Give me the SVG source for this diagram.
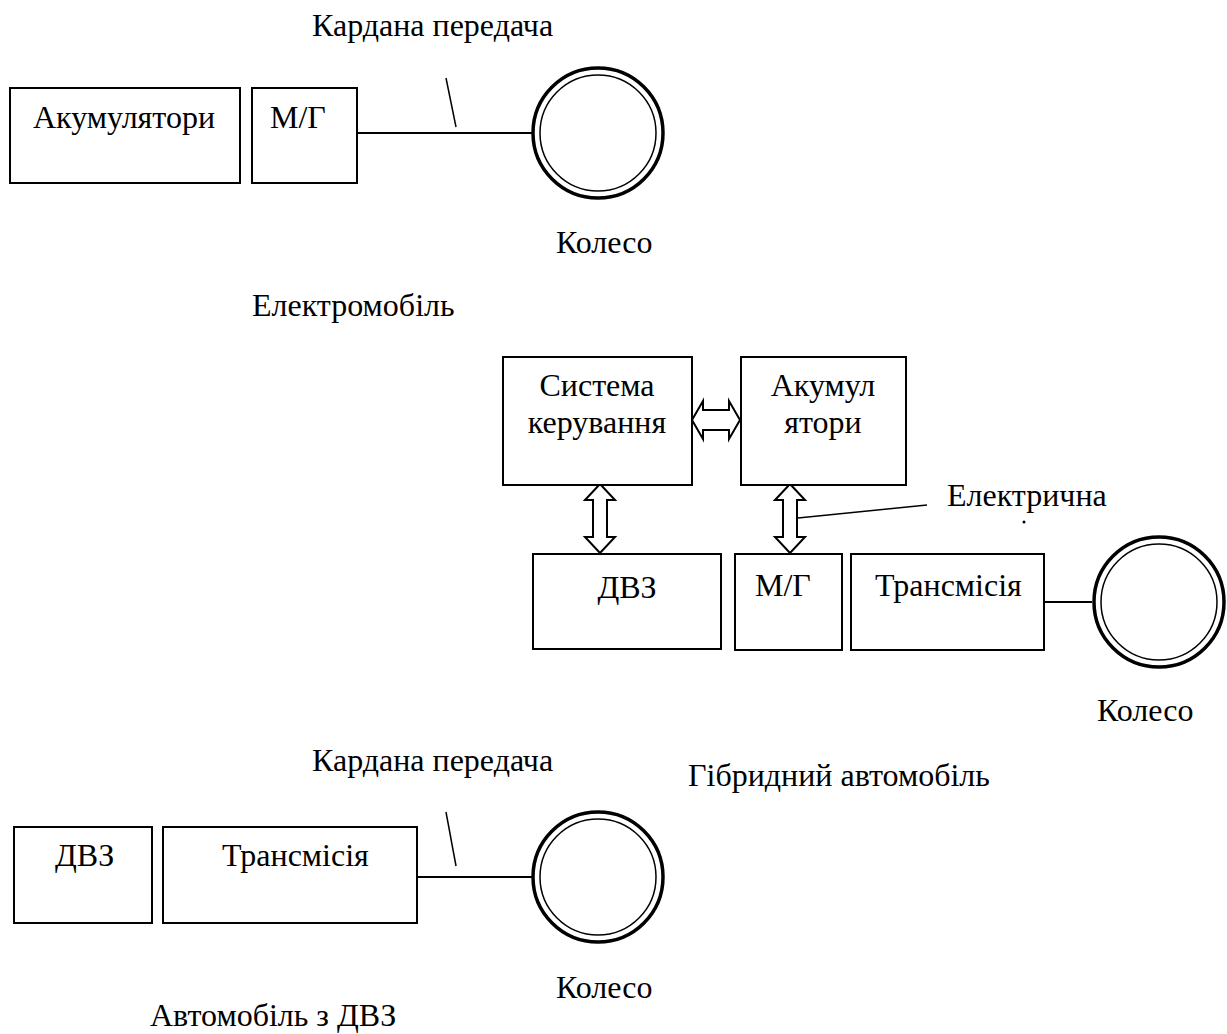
<svg xmlns="http://www.w3.org/2000/svg" width="1227" height="1034" viewBox="0 0 1227 1034">
<style>
text{font-family:"Liberation Serif","Times New Roman",serif;font-size:32px;fill:#000}
.box{fill:#fff;stroke:#000;stroke-width:2}
.ln{fill:none;stroke:#000;stroke-width:2}
.thin{fill:none;stroke:#000;stroke-width:1.5}
.w1{fill:#fff;stroke:#000;stroke-width:3.5}
.w2{fill:none;stroke:#000;stroke-width:1.5}
.arr{fill:#fff;stroke:#000;stroke-width:2;stroke-linejoin:miter}
.c{text-anchor:middle}
</style>
<rect width="1227" height="1034" fill="#fff"/>
<g id="connectors">
<line class="ln" x1="357" y1="133" x2="532" y2="133"/>
<line class="thin" x1="446" y1="78" x2="456" y2="127"/>
<line class="ln" x1="1044" y1="602" x2="1092" y2="602"/>
<line class="thin" x1="798" y1="518" x2="927" y2="505"/>
<line class="ln" x1="417" y1="877" x2="532" y2="877"/>
<line class="thin" x1="446" y1="812" x2="456" y2="866"/>
<path class="arr" d="M692,420 L703,401 L703,410 L729,410 L729,401 L740,420 L729,439 L729,430 L703,430 L703,439 Z"/>
<path class="arr" d="M600,484 L615,500 L607,500 L607,537 L615,537 L600,553 L585,537 L593,537 L593,500 L585,500 Z"/>
<path class="arr" d="M790,484 L805,500 L797,500 L797,537 L805,537 L790,553 L775,537 L783,537 L783,500 L775,500 Z"/>
</g>
<g id="ev">
<g id="ev-battery"><rect class="box" x="10" y="88" width="230" height="95"/><text x="33" y="128">Акумулятори</text></g>
<g id="ev-mg"><rect class="box" x="252" y="88" width="105" height="95"/><text x="270" y="128">М/Г</text></g>
<g id="ev-wheel"><circle class="w1" cx="598" cy="133" r="65"/><circle class="w2" cx="598" cy="133" r="58"/></g>
<text x="312" y="36">Кардана передача</text>
<text x="556" y="253">Колесо</text>
<text x="252" y="316">Електромобіль</text>
</g>
<g id="hybrid">
<g id="hy-control"><rect class="box" x="503" y="357" width="189" height="128"/><text class="c" x="597" y="396">Система</text><text class="c" x="597" y="433">керування</text></g>
<g id="hy-battery"><rect class="box" x="741" y="357" width="165" height="128"/><text class="c" x="823" y="396">Акумул</text><text class="c" x="823" y="433">ятори</text></g>
<g id="hy-ice"><rect class="box" x="533" y="554" width="188" height="95"/><text class="c" x="627" y="598">ДВЗ</text></g>
<g id="hy-mg"><rect class="box" x="735" y="554" width="107" height="96"/><text x="755" y="596">М/Г</text></g>
<g id="hy-trans"><rect class="box" x="851" y="554" width="193" height="96"/><text x="875" y="596">Трансмісія</text></g>
<g id="hy-wheel"><circle class="w1" cx="1159" cy="602" r="65"/><circle class="w2" cx="1159" cy="602" r="58"/></g>
<text x="947" y="506">Електрична</text>
<circle cx="1024" cy="522" r="1.5" fill="#000"/>
<text x="1097" y="721">Колесо</text>
<text x="688" y="786">Гібридний автомобіль</text>
</g>
<g id="ice">
<g id="ice-engine"><rect class="box" x="14" y="827" width="138" height="96"/><text x="55" y="866">ДВЗ</text></g>
<g id="ice-trans"><rect class="box" x="163" y="827" width="254" height="96"/><text x="222" y="866">Трансмісія</text></g>
<g id="ice-wheel"><circle class="w1" cx="598" cy="877" r="65"/><circle class="w2" cx="598" cy="877" r="58"/></g>
<text x="312" y="771">Кардана передача</text>
<text x="556" y="998">Колесо</text>
<text x="150" y="1026">Автомобіль з ДВЗ</text>
</g>
</svg>
